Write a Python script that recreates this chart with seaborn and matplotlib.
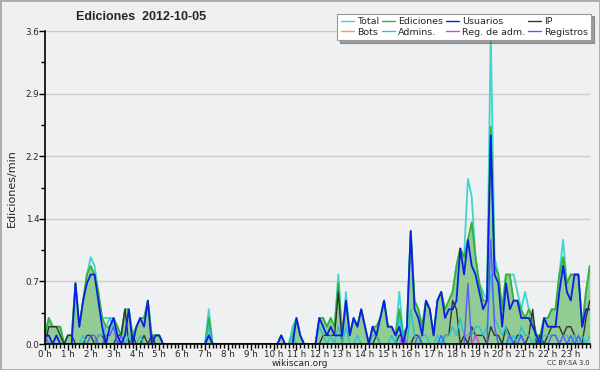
import matplotlib
matplotlib.use("Agg")
import pandas as pd
import matplotlib.pyplot as plt
import seaborn as sns
from matplotlib.lines import Line2D
from matplotlib.patches import Rectangle
from matplotlib.ticker import MultipleLocator

# Edits per minute, 10-minute bins (6 per hour, 24 hours)
ediciones = [
    0.1, 0.3, 0.2, 0.2, 0.2, 0.0,   0.1, 0.1, 0.7, 0.2, 0.5, 0.8,
    0.9, 0.8, 0.6, 0.3, 0.2, 0.2,   0.3, 0.2, 0.1, 0.4, 0.4, 0.1,
    0.2, 0.3, 0.3, 0.5, 0.1, 0.1,   0.1, 0.0, 0.0, 0.0, 0.0, 0.0,
    0.0, 0.0, 0.0, 0.0, 0.0, 0.0,   0.0, 0.3, 0.0, 0.0, 0.0, 0.0,
    0.0, 0.0, 0.0, 0.0, 0.0, 0.0,   0.0, 0.0, 0.0, 0.0, 0.0, 0.0,
    0.0, 0.0, 0.1, 0.0, 0.0, 0.1,   0.3, 0.1, 0.0, 0.0, 0.0, 0.0,
    0.3, 0.3, 0.2, 0.3, 0.2, 0.7,   0.1, 0.5, 0.1, 0.3, 0.2, 0.4,
    0.2, 0.0, 0.2, 0.2, 0.3, 0.5,   0.2, 0.2, 0.1, 0.4, 0.1, 0.2,
    1.3, 0.5, 0.4, 0.2, 0.5, 0.4,   0.1, 0.5, 0.6, 0.4, 0.5, 0.6,
    0.9, 1.1, 1.0, 1.2, 1.4, 1.0,   0.7, 0.5, 0.5, 2.5, 0.9, 0.8,
    0.4, 0.8, 0.8, 0.5, 0.5, 0.4,   0.3, 0.4, 0.3, 0.1, 0.1, 0.3,
    0.3, 0.4, 0.4, 0.8, 1.0, 0.7,   0.8, 0.8, 0.8, 0.2, 0.6, 0.9,
]
total = [
    0.1, 0.3, 0.2, 0.2, 0.2, 0.0,   0.1, 0.1, 0.7, 0.2, 0.5, 0.8,
    1.0, 0.9, 0.6, 0.3, 0.3, 0.3,   0.3, 0.2, 0.1, 0.4, 0.4, 0.1,
    0.2, 0.3, 0.3, 0.5, 0.1, 0.1,   0.1, 0.0, 0.0, 0.0, 0.0, 0.0,
    0.0, 0.0, 0.0, 0.0, 0.0, 0.0,   0.0, 0.4, 0.0, 0.0, 0.0, 0.0,
    0.0, 0.0, 0.0, 0.0, 0.0, 0.0,   0.0, 0.0, 0.0, 0.0, 0.0, 0.0,
    0.0, 0.0, 0.1, 0.0, 0.0, 0.2,   0.3, 0.1, 0.0, 0.0, 0.0, 0.0,
    0.3, 0.3, 0.2, 0.3, 0.2, 0.8,   0.1, 0.6, 0.1, 0.3, 0.2, 0.4,
    0.2, 0.0, 0.2, 0.2, 0.3, 0.5,   0.2, 0.2, 0.1, 0.6, 0.1, 0.2,
    1.3, 0.5, 0.4, 0.2, 0.5, 0.4,   0.1, 0.5, 0.6, 0.4, 0.5, 0.6,
    0.9, 1.1, 1.0, 1.9, 1.7, 1.0,   0.7, 0.6, 0.5, 3.6, 1.0, 0.8,
    0.4, 0.8, 0.8, 0.8, 0.6, 0.4,   0.6, 0.4, 0.3, 0.1, 0.1, 0.3,
    0.3, 0.4, 0.4, 0.8, 1.2, 0.7,   0.8, 0.8, 0.8, 0.2, 0.6, 0.9,
]
usuarios = [
    0.1, 0.1, 0.0, 0.1, 0.0, 0.0,   0.0, 0.0, 0.7, 0.2, 0.5, 0.7,
    0.8, 0.8, 0.5, 0.2, 0.0, 0.2,   0.3, 0.1, 0.0, 0.1, 0.4, 0.0,
    0.2, 0.3, 0.2, 0.5, 0.0, 0.1,   0.1, 0.0, 0.0, 0.0, 0.0, 0.0,
    0.0, 0.0, 0.0, 0.0, 0.0, 0.0,   0.0, 0.1, 0.0, 0.0, 0.0, 0.0,
    0.0, 0.0, 0.0, 0.0, 0.0, 0.0,   0.0, 0.0, 0.0, 0.0, 0.0, 0.0,
    0.0, 0.0, 0.1, 0.0, 0.0, 0.0,   0.3, 0.1, 0.0, 0.0, 0.0, 0.0,
    0.3, 0.2, 0.1, 0.2, 0.1, 0.1,   0.1, 0.5, 0.1, 0.3, 0.2, 0.4,
    0.2, 0.0, 0.2, 0.1, 0.3, 0.5,   0.2, 0.2, 0.1, 0.2, 0.0, 0.2,
    1.3, 0.4, 0.3, 0.1, 0.5, 0.4,   0.1, 0.5, 0.6, 0.3, 0.4, 0.4,
    0.5, 1.1, 0.8, 1.2, 0.9, 0.8,   0.6, 0.4, 0.5, 2.4, 0.8, 0.7,
    0.2, 0.7, 0.4, 0.5, 0.5, 0.3,   0.3, 0.3, 0.2, 0.1, 0.0, 0.3,
    0.2, 0.2, 0.2, 0.6, 0.9, 0.6,   0.5, 0.8, 0.8, 0.2, 0.4, 0.4,
]
ip = [
    0.0, 0.2, 0.2, 0.2, 0.1, 0.0,   0.1, 0.1, 0.0, 0.0, 0.0, 0.1,
    0.1, 0.0, 0.1, 0.1, 0.0, 0.0,   0.0, 0.1, 0.1, 0.4, 0.0, 0.1,
    0.0, 0.0, 0.1, 0.0, 0.1, 0.0,   0.0, 0.0, 0.0, 0.0, 0.0, 0.0,
    0.0, 0.0, 0.0, 0.0, 0.0, 0.0,   0.0, 0.0, 0.0, 0.0, 0.0, 0.0,
    0.0, 0.0, 0.0, 0.0, 0.0, 0.0,   0.0, 0.0, 0.0, 0.0, 0.0, 0.0,
    0.0, 0.0, 0.0, 0.0, 0.0, 0.0,   0.0, 0.0, 0.0, 0.0, 0.0, 0.0,
    0.0, 0.1, 0.1, 0.1, 0.1, 0.6,   0.0, 0.0, 0.0, 0.0, 0.0, 0.0,
    0.0, 0.0, 0.0, 0.1, 0.0, 0.0,   0.0, 0.0, 0.0, 0.1, 0.1, 0.0,
    0.0, 0.1, 0.1, 0.0, 0.0, 0.0,   0.0, 0.0, 0.0, 0.1, 0.1, 0.5,
    0.4, 0.0, 0.1, 0.0, 0.2, 0.1,   0.1, 0.1, 0.0, 0.2, 0.1, 0.1,
    0.0, 0.2, 0.1, 0.0, 0.1, 0.1,   0.0, 0.1, 0.4, 0.0, 0.1, 0.0,
    0.1, 0.2, 0.2, 0.2, 0.1, 0.2,   0.2, 0.1, 0.0, 0.0, 0.3, 0.5,
]
admins = [
    0.0, 0.0, 0.0, 0.1, 0.0, 0.0,   0.0, 0.0, 0.0, 0.0, 0.1, 0.0,
    0.0, 0.0, 0.1, 0.1, 0.2, 0.3,   0.2, 0.1, 0.0, 0.0, 0.1, 0.0,
    0.0, 0.1, 0.0, 0.0, 0.0, 0.0,   0.0, 0.0, 0.0, 0.0, 0.0, 0.0,
    0.0, 0.0, 0.0, 0.0, 0.0, 0.0,   0.0, 0.2, 0.0, 0.0, 0.0, 0.0,
    0.0, 0.0, 0.0, 0.0, 0.0, 0.0,   0.0, 0.0, 0.0, 0.0, 0.0, 0.0,
    0.0, 0.0, 0.0, 0.0, 0.0, 0.1,   0.0, 0.0, 0.0, 0.0, 0.0, 0.0,
    0.2, 0.1, 0.0, 0.1, 0.0, 0.2,   0.0, 0.2, 0.0, 0.0, 0.1, 0.0,
    0.0, 0.0, 0.1, 0.1, 0.0, 0.0,   0.0, 0.1, 0.0, 0.3, 0.1, 0.0,
    0.4, 0.1, 0.0, 0.1, 0.1, 0.0,   0.0, 0.1, 0.0, 0.1, 0.1, 0.2,
    0.1, 0.3, 0.1, 0.1, 0.1, 0.2,   0.2, 0.1, 0.2, 0.8, 0.3, 0.2,
    0.1, 0.2, 0.0, 0.1, 0.0, 0.2,   0.1, 0.1, 0.0, 0.1, 0.0, 0.1,
    0.1, 0.1, 0.1, 0.0, 0.1, 0.1,   0.0, 0.1, 0.0, 0.1, 0.0, 0.1,
]
registros = [
    0.1, 0.0, 0.0, 0.0, 0.0, 0.0,   0.0, 0.0, 0.0, 0.0, 0.0, 0.0,
    0.1, 0.1, 0.0, 0.0, 0.1, 0.1,   0.2, 0.0, 0.1, 0.0, 0.0, 0.0,
    0.0, 0.0, 0.0, 0.0, 0.0, 0.0,   0.0, 0.0, 0.0, 0.0, 0.0, 0.0,
    0.0, 0.0, 0.0, 0.0, 0.0, 0.0,   0.0, 0.1, 0.0, 0.0, 0.0, 0.0,
    0.0, 0.0, 0.0, 0.0, 0.0, 0.0,   0.0, 0.0, 0.0, 0.0, 0.0, 0.0,
    0.0, 0.0, 0.0, 0.0, 0.0, 0.0,   0.0, 0.0, 0.0, 0.0, 0.0, 0.0,
    0.0, 0.0, 0.0, 0.0, 0.0, 0.0,   0.0, 0.0, 0.0, 0.0, 0.0, 0.0,
    0.0, 0.0, 0.0, 0.0, 0.0, 0.0,   0.0, 0.0, 0.0, 0.0, 0.0, 0.0,
    0.0, 0.0, 0.1, 0.0, 0.0, 0.0,   0.0, 0.0, 0.1, 0.0, 0.0, 0.0,
    0.0, 0.0, 0.0, 0.7, 0.0, 0.0,   0.0, 0.0, 0.0, 1.2, 0.2, 0.0,
    0.0, 0.0, 0.1, 0.0, 0.0, 0.1,   0.0, 0.0, 0.0, 0.0, 0.0, 0.0,
    0.0, 0.1, 0.1, 0.0, 0.1, 0.0,   0.1, 0.0, 0.1, 0.0, 0.0, 0.0,
]
reg_adm = [0.0] * 144
reg_adm[94] = 0.1
reg_adm[113] = 0.1
bots = [0.0] * 144

hour_labels = [f"{h} h" for h in range(24)]
y_ticks = [0.0, 0.72, 1.44, 2.16, 2.88, 3.6]
y_labels = ["0.0", "0.7", "1.4", "2.2", "2.9", "3.6"]

df = pd.DataFrame({
    "bin": range(144),
    "Total": total,
    "Ediciones": ediciones,
    "Usuarios": usuarios,
    "IP": ip,
    "Bots": bots,
    "Admins.": admins,
    "Reg. de adm.": reg_adm,
    "Registros": registros,
})

colors = {
    "Total": "#3fd6cc",
    "Ediciones": "#38b038",
    "Usuarios": "#0a1ee6",
    "IP": "#333333",
    "Bots": "#ffa020",
    "Admins.": "#22c4d8",
    "Reg. de adm.": "#e040e0",
    "Registros": "#5a5aff",
}

sns.set_style("white")
plt.rcParams["font.family"] = ["DejaVu Sans"]

fig = plt.figure(figsize=(6, 3.7), dpi=100, facecolor="#f0f0f0")
ax = fig.add_axes([0.075, 0.07, 0.908, 0.846])
ax.set_facecolor("#eef0f2")

ax.fill_between(df["bin"], df["Ediciones"], color="#93cc93", lw=0, zorder=1)
draw_order = ["Total", "Ediciones", "IP", "Admins.", "Registros",
              "Reg. de adm.", "Usuarios"]
for name in draw_order:
    lw = 1.3 if name in ("Usuarios", "Ediciones", "Total") else 1.0
    sns.lineplot(data=df, x="bin", y=name, color=colors[name], lw=lw,
                 ax=ax, legend=False, zorder=3)

ax.set_xlim(0, 143)
ax.set_ylim(0, 3.6)
ax.set_xticks(range(0, 144, 6))
ax.set_xticklabels(hour_labels, fontsize=6.3)
ax.xaxis.set_minor_locator(MultipleLocator(1))
ax.set_yticks(y_ticks)
ax.set_yticklabels(y_labels, fontsize=6.3)
ax.yaxis.set_minor_locator(MultipleLocator(0.36))
ax.tick_params(which="both", bottom=True, left=True, top=False, right=False)
ax.tick_params(which="major", direction="out", length=4, width=1,
               color="black", pad=0)
ax.tick_params(which="minor", direction="out", length=3, width=1,
               color="black")
ax.yaxis.grid(True, color="#cccccc", lw=1)
ax.set_axisbelow(True)
for s in ["top", "right"]:
    ax.spines[s].set_visible(False)
for s in ["left", "bottom"]:
    ax.spines[s].set_color("black")
    ax.spines[s].set_linewidth(1.2)
    ax.spines[s].set_zorder(5)
ax.set_xlabel("")
ax.set_ylabel("Ediciones/min", fontsize=8, labelpad=6)

fig.text(0.235, 0.953, "Ediciones  2012-10-05", fontsize=9,
         fontweight="bold", ha="center", va="center",
         family=["Liberation Sans", "DejaVu Sans"])

legend_order = ["Total", "Bots", "Ediciones", "Admins.", "Usuarios",
                "Reg. de adm.", "IP", "Registros"]
handles = [Line2D([0], [0], color=colors[n], lw=1) for n in legend_order]
leg = fig.legend(handles, legend_order, ncol=4, loc="upper right",
                 bbox_to_anchor=(0.993, 0.976), fontsize=6.8, frameon=True,
                 fancybox=False, shadow=True, framealpha=1,
                 edgecolor="#999999", handlelength=1.4, handletextpad=0.3,
                 columnspacing=0.3, labelspacing=0.2, borderpad=0.35)
leg.get_frame().set_linewidth(0.8)

fig.text(0.5, 0.018, "wikiscan.org", fontsize=6.5, ha="center", va="center")
fig.text(0.982, 0.02, "CC BY-SA 3.0", fontsize=4.8, ha="right",
         va="center", color="#333333")

fig.patches.append(Rectangle((0, 0), 1, 1, transform=fig.transFigure,
                             fill=False, edgecolor="#aaaaaa", lw=2))

fig.savefig("out.png", dpi=100, facecolor=fig.get_facecolor())
